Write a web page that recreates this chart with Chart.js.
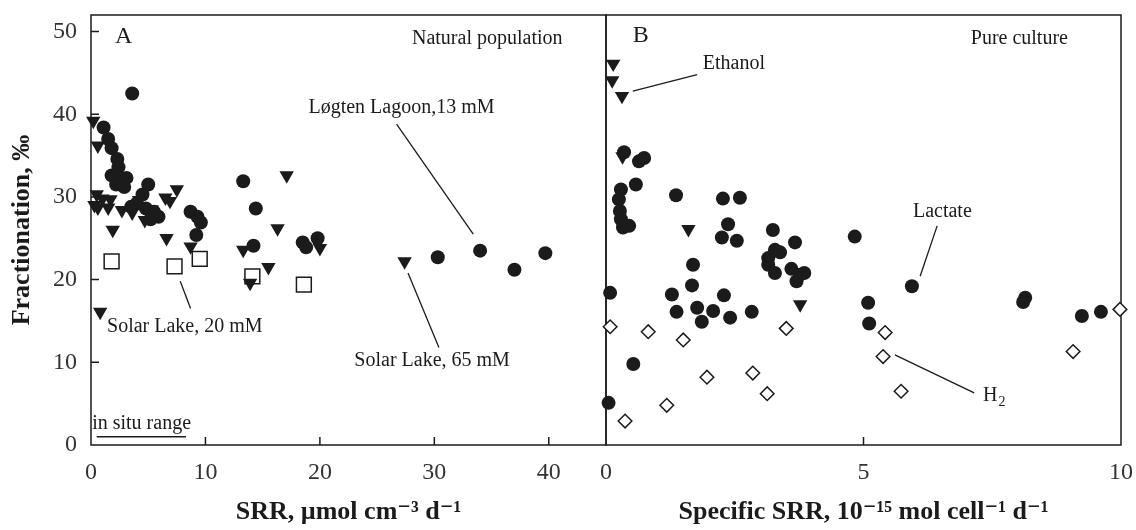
<!DOCTYPE html>
<html><head><meta charset="utf-8">
<script src="https://cdn.jsdelivr.net/npm/chart.js@4.4.1/dist/chart.umd.min.js"></script>
<style>
html,body{margin:0;padding:0;background:#fff;width:1136px;height:530px;overflow:hidden;}
#wrapA{position:absolute;left:0;top:0;width:620px;height:530px;}
#wrapB{position:absolute;left:560px;top:0;width:576px;height:530px;}
</style></head><body>
<div id="wrapA"><canvas id="cA" width="620" height="530"></canvas></div>
<div id="wrapB"><canvas id="cB" width="576" height="530"></canvas></div>
<script>
// ---------- Panel A: natural population ----------
const circlesA_x = [3.6,1.1,1.5,1.8,2.3,2.4,1.8,2.5,3.1,2.2,2.9,5.0,4.5,4.0,4.8,5.5,5.9,5.2,3.5,8.7,9.3,9.6,9.2,13.3,14.4,14.2,18.5,18.8,19.8,30.3,34.0,37.0,39.7];
const circlesA_y = [42.5,38.4,37.0,35.9,34.6,33.6,32.6,32.3,32.3,31.5,31.2,31.5,30.3,29.2,28.6,28.2,27.6,27.3,28.8,28.2,27.6,26.9,25.4,31.9,28.6,24.1,24.5,23.9,25.0,22.7,23.5,21.2,23.2];
const trianglesA_x = [0.2,0.6,0.5,0.3,1.0,1.7,0.6,1.5,2.7,3.6,4.7,4.2,5.3,6.5,7.5,6.9,1.9,6.6,8.7,13.3,17.1,16.3,20.0,15.5,13.9,0.8,27.4];
const trianglesA_y = [39.2,36.2,30.3,29.0,29.8,29.7,28.7,28.7,28.4,28.1,27.2,29.6,28.5,29.9,30.9,29.5,26.0,25.0,24.0,23.6,32.6,26.2,23.8,21.5,19.6,16.1,22.2];
const squaresA_x = [1.8,7.3,9.5,14.1,18.6];
const squaresA_y = [22.2,21.6,22.5,20.4,19.4];
const inSituRange_x = [0.5,8.3];
const inSituRange_y = [1.0,1.0];

// ---------- Panel B: pure culture ----------
const lactateB_x = [0.35,0.64,0.74,0.58,0.29,0.25,0.27,0.29,0.33,0.45,1.36,2.27,2.6,2.37,2.25,2.54,3.24,3.67,4.83,3.28,3.15,3.15,3.28,3.38,3.6,3.77,3.7,3.85,1.69,1.67,1.28,1.37,1.77,1.86,2.08,2.29,2.41,2.83,0.08,0.53,0.05,5.09,5.11,5.94,8.14,8.1,9.24,9.61];
const lactateB_y = [35.4,34.3,34.7,31.5,30.9,29.7,28.3,27.3,26.3,26.5,30.2,29.8,29.9,26.7,25.1,24.7,26.0,24.5,25.2,23.6,22.6,21.8,20.8,23.3,21.3,20.6,19.8,20.8,21.8,19.3,18.2,16.1,16.6,14.9,16.2,18.1,15.4,16.1,18.4,9.8,5.1,17.2,14.7,19.2,17.8,17.3,15.6,16.1];
const ethanolB_x = [0.14,0.12,0.31,0.32,1.6,3.77];
const ethanolB_y = [46.1,44.1,42.2,34.9,26.1,17.0];
const h2B_x = [0.08,0.82,1.5,0.37,1.18,1.96,2.85,3.13,3.5,5.42,5.38,5.73,9.07,9.98];
const h2B_y = [14.3,13.7,12.7,2.9,4.8,8.2,8.7,6.2,14.1,13.6,10.7,6.5,11.3,16.4];

// ---------- axes ----------
const yTicksA = [0,10,20,30,40,50];
const xTicksA = [0,10,20,30,40];
const xTicksB = [0,5,10];

const pts = (xs, ys) => xs.map((x, i) => ({x, y: ys[i]}));
const INK = '#1b1b1b';
const SERIF = "'Liberation Serif', 'DejaVu Serif', serif";

const framePlugin = {
  id: 'frame',
  beforeDatasetsDraw(chart, args, o) {
    const {ctx, chartArea: a, scales} = chart;
    ctx.save();
    ctx.strokeStyle = INK; ctx.lineWidth = 1.5;
    ctx.strokeRect(a.left, a.top, a.right - a.left, a.bottom - a.top);
    ctx.beginPath();
    (o.xTicks || []).forEach(v => { const px = scales.x.getPixelForValue(v); ctx.moveTo(px, a.bottom); ctx.lineTo(px, a.bottom - 8); });
    (o.yTicks || []).forEach(v => { const py = scales.y.getPixelForValue(v); ctx.moveTo(a.left, py); ctx.lineTo(a.left + 8, py); });
    ctx.stroke();
    ctx.restore();
  },
  afterDatasetsDraw(chart, args, o) {
    const {ctx, scales} = chart;
    const X = v => scales.x.getPixelForValue(v), Y = v => scales.y.getPixelForValue(v);
    ctx.save();
    ctx.strokeStyle = INK; ctx.fillStyle = INK; ctx.lineWidth = 1.3;
    (o.lines || []).forEach(l => { ctx.beginPath(); ctx.moveTo(X(l[0]), Y(l[1])); ctx.lineTo(X(l[2]), Y(l[3])); ctx.stroke(); });
    (o.texts || []).forEach(t => {
      ctx.font = (t.size || 20) + 'px ' + SERIF;
      ctx.textAlign = t.align || 'left'; ctx.textBaseline = 'middle';
      ctx.fillText(t.text, X(t.x), Y(t.y));
      if (t.sub) {
        const w = ctx.measureText(t.text).width;
        ctx.font = '14px ' + SERIF; ctx.textAlign = 'left';
        ctx.fillText(t.sub, X(t.x) + w + 1, Y(t.y) + 6);
      }
    });
    ctx.restore();
  }
};

const tickFont = {family: SERIF, size: 24};
const titleFont = {family: SERIF, size: 26, weight: 'bold'};

function xAxis(max, step, title) {
  return {
    type: 'linear', min: 0, max: max,
    grid: {display: false, drawTicks: false}, border: {display: false},
    ticks: {stepSize: step, includeBounds: false, font: tickFont, color: '#333', padding: 13, maxRotation: 0, autoSkip: false},
    title: {display: true, text: title, font: titleFont, color: INK, padding: {top: 0, bottom: 2}},
    afterFit: s => { s.height = 85; s.paddingLeft = 0; s.paddingRight = 0; }
  };
}

new Chart(document.getElementById('cA'), {
  type: 'scatter',
  data: {datasets: [
    {label: 'Circles', data: pts(circlesA_x, circlesA_y), pointStyle: 'circle', pointRadius: 7, backgroundColor: INK, borderColor: INK, borderWidth: 0, order: 0, clip: false},
    {label: 'Triangles', data: pts(trianglesA_x, trianglesA_y), pointStyle: 'triangle', rotation: 180, pointRadius: 8.3, backgroundColor: INK, borderColor: INK, borderWidth: 0, order: 1, clip: false},
    {label: 'Squares', data: pts(squaresA_x, squaresA_y), pointStyle: 'rect', pointRadius: 10.5, backgroundColor: '#fff', borderColor: INK, borderWidth: 1.5, order: 2, clip: false},
    {label: 'in situ range', data: pts(inSituRange_x, inSituRange_y), showLine: true, pointRadius: 0, borderColor: INK, borderWidth: 1.5, order: 3}
  ]},
  options: {
    responsive: false, animation: false,
    layout: {padding: {top: 15, right: 14, left: 0, bottom: 0}},
    plugins: {legend: {display: false}, tooltip: {enabled: false},
      frame: {
        xTicks: [10,20,30,40], yTicks: [10,20,30,40,50],
        texts: [
          {x: 2.1, y: 49.4, text: 'A', size: 24},
          {x: 41.2, y: 49.1, text: 'Natural population', align: 'right'},
          {x: 19.0, y: 40.8, text: 'Løgten Lagoon,13 mM'},
          {x: 1.4, y: 14.3, text: 'Solar Lake, 20 mM'},
          {x: 36.6, y: 10.2, text: 'Solar Lake, 65 mM', align: 'right'},
          {x: 0.1, y: 2.6, text: 'in situ range'}
        ],
        lines: [[26.7,38.8,33.4,25.5],[7.8,19.8,8.7,16.5],[27.7,20.8,30.4,11.8]]
      }
    },
    scales: {
      x: xAxis(45, 10, 'SRR, µmol cm⁻³ d⁻¹'),
      y: {
        type: 'linear', min: 0, max: 52,
        grid: {display: false, drawTicks: false}, border: {display: false},
        ticks: {stepSize: 10, includeBounds: false, font: tickFont, color: '#333', padding: 14},
        title: {display: true, text: 'Fractionation, ‰', font: titleFont, color: INK, padding: {top: 7, bottom: 0}},
        afterFit: s => { s.width = 91; s.paddingTop = 0; s.paddingBottom = 0; }
      }
    }
  },
  plugins: [framePlugin]
});

new Chart(document.getElementById('cB'), {
  type: 'scatter',
  data: {datasets: [
    {label: 'Lactate', data: pts(lactateB_x, lactateB_y), pointStyle: 'circle', pointRadius: 7, backgroundColor: INK, borderColor: INK, borderWidth: 0, order: 0, clip: false},
    {label: 'Ethanol', data: pts(ethanolB_x, ethanolB_y), pointStyle: 'triangle', rotation: 180, pointRadius: 8.3, backgroundColor: INK, borderColor: INK, borderWidth: 0, order: 1, clip: false},
    {label: 'H2', data: pts(h2B_x, h2B_y), pointStyle: 'rectRot', pointRadius: 6.8, backgroundColor: '#fff', borderColor: INK, borderWidth: 1.5, order: 2, clip: false}
  ]},
  options: {
    responsive: false, animation: false,
    layout: {padding: {top: 15, right: 15, left: 46, bottom: 0}},
    plugins: {legend: {display: false}, tooltip: {enabled: false},
      frame: {
        xTicks: [5], yTicks: [],
        texts: [
          {x: 0.52, y: 49.5, text: 'B', size: 24},
          {x: 8.97, y: 49.1, text: 'Pure culture', align: 'right'},
          {x: 1.88, y: 46.1, text: 'Ethanol'},
          {x: 5.96, y: 28.2, text: 'Lactate'},
          {x: 7.32, y: 5.9, text: 'H', sub: '2'}
        ],
        lines: [[0.52,42.8,1.77,44.8],[6.43,26.5,6.1,20.4],[5.61,10.9,7.15,6.3]]
      }
    },
    scales: {
      x: xAxis(10, 5, 'Specific SRR, 10⁻¹⁵ mol cell⁻¹ d⁻¹'),
      y: {type: 'linear', min: 0, max: 52, display: false}
    }
  },
  plugins: [framePlugin]
});
</script>
</body></html>
